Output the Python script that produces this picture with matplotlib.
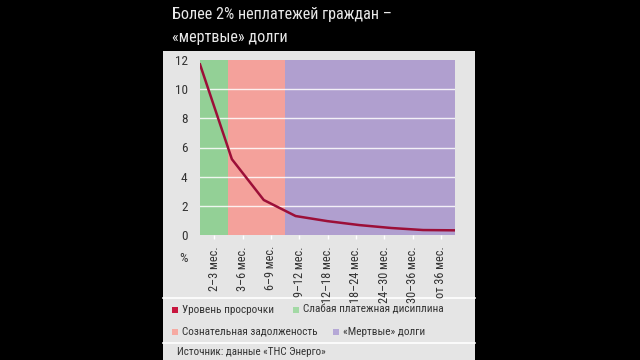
import matplotlib
matplotlib.use("Agg")
import matplotlib.pyplot as plt
from matplotlib.patches import Rectangle
from matplotlib import font_manager
import numpy as np

avail = {f.name for f in font_manager.fontManager.ttflist}
cands = [c for c in ['Roboto Condensed', 'Liberation Sans Narrow', 'Roboto'] if c in avail]
plt.rcParams['font.family'] = cands + ['DejaVu Sans']
plt.rcParams['font.stretch'] = 'condensed'

categories = ["2–3 мес.", "3–6 мес.", "6–9 мес.", "9–12 мес.", "12–18 мес.",
              "18–24 мес.", "24–30 мес.", "30–36 мес.", "от 36 мес."]
overdue = [11.7, 5.2, 2.4, 1.3, 0.95, 0.68, 0.48, 0.34, 0.32]
zones = [("Слабая платежная дисиплина", 0, 1, "#93d096"),
         ("Сознательная задолженость", 1, 3, "#f4a19b"),
         ("«Мертвые» долги", 3, 9, "#b09fcf")]
title = "Более 2% неплатежей граждан –\n«мертвые» долги"
source = "Источник: данные «ТНС Энерго»"
line_label = "Уровень просрочки"
yticks = [0, 2, 4, 6, 8, 10, 12]

W, H = 640, 360
fig = plt.figure(figsize=(6.4, 3.6), dpi=100, facecolor="black")

def fx(x): return x / W
def fy(y): return 1 - y / H

fig.patches.append(Rectangle((fx(163), 0), fx(475) - fx(163), fy(51), transform=fig.transFigure,
                             facecolor="#e5e5e5", edgecolor="none", zorder=-5))
for yy in (298, 343):
    fig.add_artist(plt.Line2D([fx(163), fx(475)], [fy(yy), fy(yy)], color="white", lw=1.2, zorder=-4))

fig.text(fx(172), fy(26), title, color="#e8e8e8", fontsize=11.6, va="center", ha="left", linespacing=1.7)

ax = fig.add_axes([fx(200), fy(235), fx(455) - fx(200), fy(60) - fy(235)], zorder=2)
ax.set_facecolor("none")
for name, a, b, c in zones:
    ax.axvspan(a, b, color=c, lw=0, zorder=0)
for t in yticks[1:-1]:
    ax.axhline(t, color="white", lw=1, alpha=0.85, zorder=1)
n = len(overdue)
xs = np.arange(n) * (len(categories) / (n - 1))
ax.plot(xs, overdue, color="#9c0f38", lw=1.8, zorder=3)
ax.set_xlim(0, len(categories))
ax.set_ylim(0, 12)
ax.set_yticks(yticks)
ax.set_yticklabels([str(t) for t in yticks], fontsize=9.5, color="#333333")
ax.set_xticks(np.arange(len(categories)) + 0.5)
ax.set_xticklabels(categories, rotation=90, fontsize=8.8, color="#333333")
ax.tick_params(axis="y", length=0, pad=9)
ax.tick_params(axis="x", length=3, color="white", width=1, pad=5)
for s in ax.spines.values():
    s.set_visible(False)
fig.text(fx(183), fy(258), "%", fontsize=9.5, color="#333333", ha="center", va="center")

leg = [(line_label, "#c8163f", 172, 310),
       (zones[0][0], "#a3d9a5", 293, 310),
       (zones[1][0], "#f6aaa2", 172, 332),
       (zones[2][0], "#b5a8d6", 333, 332)]
for lab, col, x, y in leg:
    fig.patches.append(Rectangle((fx(x), fy(y + 3)), fx(6), 6 / H, transform=fig.transFigure,
                                 facecolor=col, edgecolor="none", zorder=2))
    fig.text(fx(x + 10), fy(y), lab, fontsize=8.1, color="#333333", va="center", ha="left")
fig.text(fx(177), fy(352), source, fontsize=7.9, color="#333333", va="center", ha="left")

fig.savefig("out.png", dpi=100, facecolor="black")
